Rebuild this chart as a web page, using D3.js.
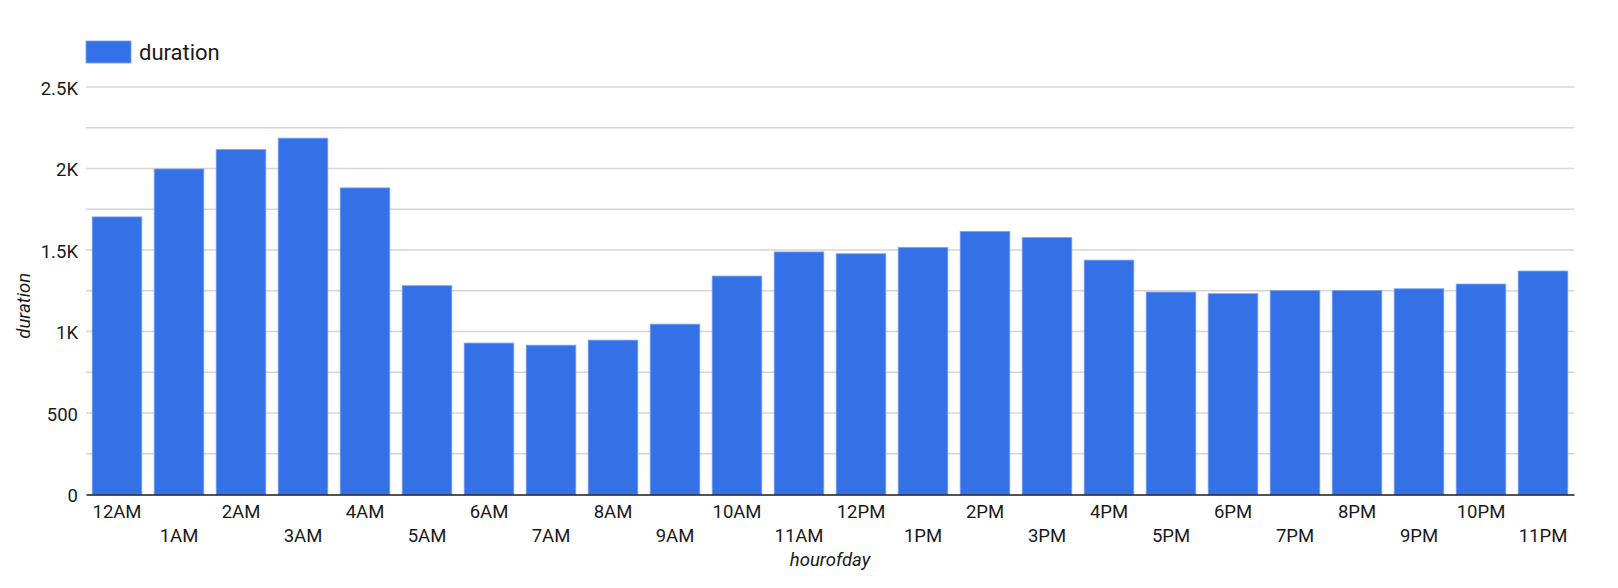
<!DOCTYPE html>
<html>
<head>
<meta charset="utf-8">
<script src="https://cdn.jsdelivr.net/npm/d3@7"></script>
<style>
  body { margin: 0; background: #fff; }
  text { font-family: Roboto, "Noto Sans", sans-serif; fill: #1a1a1a; }
</style>
</head>
<body>
<svg id="chart" width="1618" height="588"></svg>
<script>
// data
const hours = ['12AM', '1AM', '2AM', '3AM', '4AM', '5AM', '6AM', '7AM', '8AM', '9AM', '10AM', '11AM',
  '12PM', '1PM', '2PM', '3PM', '4PM', '5PM', '6PM', '7PM', '8PM', '9PM', '10PM', '11PM'];
const duration = [1703, 1997, 2116, 2186, 1881, 1281, 929, 916, 947, 1045, 1340, 1488,
  1477, 1516, 1614, 1576, 1438, 1242, 1232, 1252, 1252, 1262, 1291, 1371];
const yTicks = [0, 500, 1000, 1500, 2000, 2500];
const yTickLabels = ['0', '500', '1K', '1.5K', '2K', '2.5K'];
const gridValues = [250, 500, 750, 1000, 1250, 1500, 1750, 2000, 2250, 2500];
const seriesName = 'duration';
const xTitle = 'hourofday';
const yTitle = 'duration';

const width = 1618;
const height = 588;
const margin = { top: 87, right: 44, bottom: 93.5, left: 86 };
const barColor = '#3471e6';

const svg = d3.select('#chart');

const x = d3.scaleBand()
  .domain(hours)
  .range([margin.left, width - margin.right])
  .paddingInner(0.2)
  .paddingOuter(0.1);

const y = d3.scaleLinear()
  .domain([0, 2500])
  .range([height - margin.bottom, margin.top]);

// gridlines
svg.append('g')
  .selectAll('line')
  .data(gridValues)
  .enter()
  .append('line')
  .attr('x1', margin.left)
  .attr('x2', width - margin.right)
  .attr('y1', d => y(d))
  .attr('y2', d => y(d))
  .attr('stroke', '#d6d6d6')
  .attr('stroke-width', 1.4);

// bars
svg.append('g')
  .selectAll('.bar')
  .data(duration)
  .enter()
  .append('rect')
  .attr('class', 'bar')
  .attr('x', (d, i) => x(hours[i]))
  .attr('y', d => y(d))
  .attr('width', x.bandwidth())
  .attr('height', d => y(0) - y(d))
  .attr('fill', barColor)
  .attr('stroke', '#79a2ef')
  .attr('stroke-width', 0.8);

// y axis
const yAxis = svg.append('g')
  .attr('transform', `translate(${margin.left},0)`)
  .call(d3.axisLeft(y)
    .tickValues(yTicks)
    .tickFormat((d, i) => yTickLabels[i])
    .tickSize(0)
    .tickPadding(8));
yAxis.select('.domain').remove();
yAxis.selectAll('text')
  .attr('dy', '0.4em')
  .style('font-size', '18.5px')
  .style('font-family', 'Roboto')
  .attr('fill', '#1a1a1a');

// x axis
const xAxis = svg.append('g')
  .attr('transform', `translate(0,${y(0)})`)
  .call(d3.axisBottom(x).tickSize(0).tickSizeOuter(0));
xAxis.select('.domain')
  .attr('stroke', '#1a1a1a')
  .attr('stroke-width', 1.6);
xAxis.selectAll('text')
  .attr('y', (d, i) => (i % 2 === 0 ? 23.5 : 47.5))
  .attr('dy', 0)
  .style('font-size', '18.5px')
  .style('font-family', 'Roboto')
  .attr('fill', '#1a1a1a');

// axis titles
svg.append('text')
  .attr('x', (margin.left + width - margin.right) / 2)
  .attr('y', 566)
  .attr('text-anchor', 'middle')
  .style('font-size', '18.5px')
  .style('font-style', 'italic')
  .text(xTitle);

svg.append('text')
  .attr('transform', `translate(30,${(y(0) + y(2500)) / 2 + 15}) rotate(-90)`)
  .attr('text-anchor', 'middle')
  .style('font-size', '18.5px')
  .style('font-style', 'italic')
  .text(yTitle);

// legend
const legend = svg.append('g');
legend.append('rect')
  .attr('x', 86)
  .attr('y', 41)
  .attr('width', 45)
  .attr('height', 22)
  .attr('fill', barColor)
  .attr('stroke', '#79a2ef')
  .attr('stroke-width', 0.8);
legend.append('text')
  .attr('x', 139)
  .attr('y', 60)
  .style('font-size', '22px')
  .text(seriesName);
</script>
</body>
</html>
